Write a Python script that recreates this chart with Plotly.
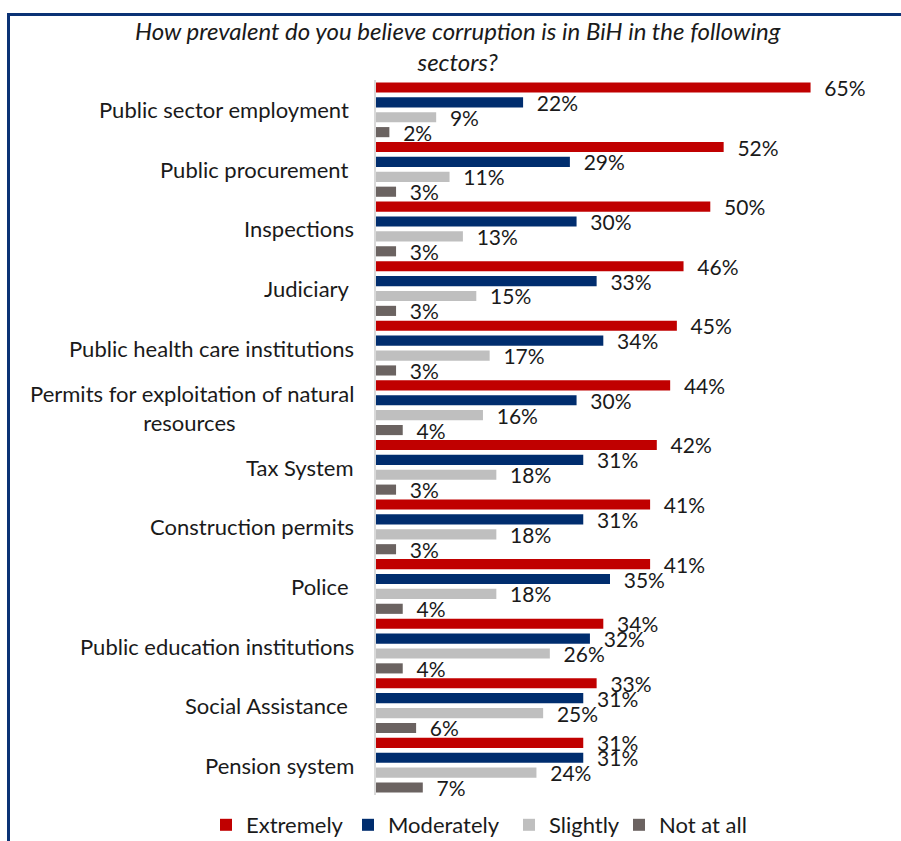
import plotly.graph_objects as go

# Survey sectors (top to bottom) and share of respondents per answer, in %
sectors = [
    "Public sector employment ",
    "Public procurement ",
    "Inspections",
    "Judiciary ",
    "Public health care institutions",
    "Permits for exploitation of natural<br>resources ",
    "Tax System",
    "Construction permits",
    "Police ",
    "Public education institutions",
    "Social Assistance ",
    "Pension system",
]
extremely = [65, 52, 50, 46, 45, 44, 42, 41, 41, 34, 33, 31]
moderately = [22, 29, 30, 33, 34, 30, 31, 31, 35, 32, 31, 31]
slightly = [9, 11, 13, 15, 17, 16, 18, 18, 18, 26, 25, 24]
not_at_all = [2, 3, 3, 3, 3, 4, 3, 3, 4, 4, 6, 7]

series = [
    ("Extremely", extremely, "#C00000"),
    ("Moderately", moderately, "#002D6E"),
    ("Slightly", slightly, "#BFBFBF"),
    ("Not at all", not_at_all, "#6B6361"),
]

# Each series gets its own legend box so the entries sit on one row
legend_ids = ["legend", "legend2", "legend3", "legend4"]
legend_left_px = [206, 348, 509, 619]

FONT = "Lato"
INK = "#1a1a1a"

fig = go.Figure()
for (name, vals, color), lid in zip(series, legend_ids):
    fig.add_trace(go.Bar(
        name=name,
        y=sectors,
        x=vals,
        orientation="h",
        legend=lid,
        marker=dict(color=color, line=dict(width=0)),
        text=[f"\u00a0\u00a0{v}%" for v in vals],
        texttemplate="%{text}",
        textposition="outside",
        constraintext="none",
        cliponaxis=False,
        textfont=dict(family=FONT, size=21, color=INK),
    ))

# Category labels, right-aligned next to the axis, multi-line ones centred
for s in sectors:
    label = s.replace(" <br>", "<br>").rstrip()
    if s.endswith(" "):
        label += "\u00a0"
    fig.add_annotation(
        x=0, xref="paper", xshift=-20,
        y=s, yref="y",
        text=label,
        showarrow=False,
        xanchor="right", yanchor="middle",
        align="center",
        font=dict(family=FONT, size=22, color=INK),
    )

# Chart title
fig.add_annotation(
    x=0.5, xref="paper", xshift=-152,
    y=1.0, yref="paper", yshift=2,
    text="<i>How prevalent do you believe corruption is in BiH in the following<br>sectors?</i>",
    showarrow=False, xanchor="center", yanchor="bottom", align="center",
    font=dict(family=FONT, size=24, color=INK),
)

# Frame around the chart
fig.add_shape(
    type="rect", xref="paper", yref="paper",
    x0=(8.5 - 376) / 468, x1=(915 - 376) / 468,
    y0=(795 - 855) / 715, y1=(795 - 14.5) / 715,
    line=dict(color="#0B3275", width=3),
    fillcolor="rgba(0,0,0,0)",
    layer="above",
)

legend_layout = {}
for lid, left in zip(legend_ids, legend_left_px):
    legend_layout[lid] = dict(
        orientation="h", xref="container", yref="container",
        x=left / 901, xanchor="left", y=1 - 825 / 841, yanchor="middle",
        font=dict(family=FONT, size=22, color=INK),
        itemwidth=30, bgcolor="rgba(0,0,0,0)",
    )

fig.update_layout(
    width=901, height=841,
    margin=dict(l=376, r=57, t=80, b=46, autoexpand=False),
    paper_bgcolor="white", plot_bgcolor="white",
    barmode="group", bargap=0.0, bargroupgap=0.32,
    showlegend=True,
    font=dict(family=FONT, color=INK),
    xaxis=dict(range=[0, 70], visible=False, showgrid=False, zeroline=False),
    yaxis=dict(
        autorange="reversed", showticklabels=False, ticks="",
        showgrid=False, zeroline=False,
        showline=True, linecolor="#D9D9D9", linewidth=2,
    ),
    **legend_layout,
)

fig.write_html("out.html")
